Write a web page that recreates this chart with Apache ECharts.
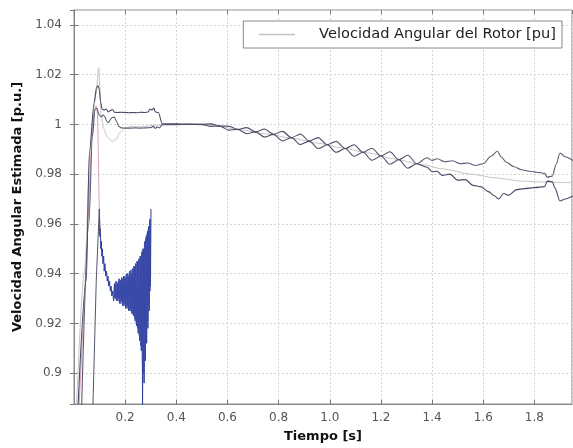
<!DOCTYPE html>
<html>
<head>
<meta charset="utf-8">
<title>Velocidad Angular Estimada</title>
<script src="https://cdn.jsdelivr.net/npm/echarts@6/dist/echarts.min.js"></script>
<style>
  html, body { margin: 0; padding: 0; background: #fff; }
  #chart { width: 573px; height: 448px; }
</style>
</head>
<body>
<div id="chart"></div>
<script>
// ejes
const xMin = 0, xMax = 1.947, xStep = 0.2;
const yMin = 0.8876, yMax = 1.046, yStep = 0.02;

const nombreRef = 'Velocidad Angular del Rotor [pu]';

// velocidad del rotor (referencia, gris claro)
const refData = [
  [0.010, 0.8870], [0.040, 0.9400], [0.065, 0.9900], [0.085, 1.0120], [0.097, 1.0228],
  [0.101, 1.0150], [0.106, 1.0040], [0.115, 0.9985], [0.130, 0.9950], [0.150, 0.9932],
  [0.165, 0.9940], [0.180, 0.9968], [0.200, 0.9985], [0.230, 0.9992], [0.260, 0.9990],
  [0.300, 0.9995], [0.350, 1.0000], [0.450, 1.0000], [0.550, 0.9995], [0.650, 0.9978],
  [0.750, 0.9962], [0.850, 0.9945], [0.950, 0.9925], [1.050, 0.9905], [1.150, 0.9885],
  [1.250, 0.9862], [1.350, 0.9840], [1.450, 0.9820], [1.550, 0.9800], [1.650, 0.9785],
  [1.750, 0.9772], [1.850, 0.9768], [1.950, 0.9765]
];

// estimada 1 (oscura)
const est1Data = [
  [0.016, 0.8870], [0.048, 0.9372], [0.060, 0.9888], [0.079, 1.0088], [0.088, 1.0148],
  [0.094, 1.0155], [0.099, 1.0140], [0.104, 1.0090], [0.110, 1.0062], [0.118, 1.0058],
  [0.126, 1.0062], [0.134, 1.0050], [0.142, 1.0056], [0.150, 1.0060], [0.158, 1.0049],
  [0.170, 1.0048], [0.185, 1.0049], [0.200, 1.0048], [0.215, 1.0047], [0.230, 1.0048],
  [0.245, 1.0047], [0.260, 1.0049], [0.275, 1.0048], [0.290, 1.0050], [0.297, 1.0062],
  [0.305, 1.0058], [0.312, 1.0066], [0.318, 1.0050], [0.330, 1.0048], [0.345, 1.0002],
  [0.360, 1.0002], [0.400, 1.0002], [0.450, 1.0001], [0.500, 1.0000], [0.535, 1.0002],
  [0.570, 0.9993], [0.605, 0.9977], [0.640, 0.9980], [0.675, 0.9987], [0.710, 0.9970],
  [0.745, 0.9949], [0.780, 0.9960], [0.815, 0.9972], [0.850, 0.9947], [0.885, 0.9919],
  [0.920, 0.9933], [0.955, 0.9947], [0.990, 0.9918], [1.025, 0.9888], [1.060, 0.9903],
  [1.095, 0.9918], [1.130, 0.9888], [1.165, 0.9856], [1.200, 0.9873], [1.235, 0.9890],
  [1.270, 0.9858], [1.305, 0.9824], [1.340, 0.9842], [1.380, 0.9828], [1.400, 0.9810],
  [1.420, 0.9812], [1.440, 0.9795], [1.470, 0.9800], [1.500, 0.9776], [1.530, 0.9778],
  [1.560, 0.9755], [1.590, 0.9750], [1.620, 0.9730], [1.645, 0.9712], [1.660, 0.9700],
  [1.680, 0.9722], [1.700, 0.9715], [1.730, 0.9738], [1.760, 0.9742], [1.800, 0.9746],
  [1.840, 0.9750], [1.850, 0.9772], [1.870, 0.9770], [1.880, 0.9745], [1.900, 0.9692],
  [1.920, 0.9700], [1.950, 0.9712]
];

// estimada 2 (oscura)
const est2Data = [
  [0.030, 0.8870], [0.058, 0.9600], [0.072, 0.9950], [0.082, 1.0060], [0.090, 1.0065],
  [0.097, 1.0040], [0.106, 1.0030], [0.113, 1.0038], [0.120, 1.0032], [0.128, 1.0012],
  [0.136, 1.0008], [0.143, 1.0022], [0.150, 1.0028], [0.158, 1.0030], [0.165, 1.0015],
  [0.175, 0.9992], [0.185, 0.9986], [0.200, 0.9985], [0.220, 0.9985], [0.240, 0.9986],
  [0.260, 0.9985], [0.280, 0.9986], [0.300, 0.9987], [0.310, 0.9992], [0.318, 0.9984],
  [0.325, 0.9990], [0.333, 0.9986], [0.345, 0.9998], [0.360, 0.9999], [0.400, 0.9999],
  [0.450, 1.0000], [0.500, 1.0000], [0.535, 0.9992], [0.570, 0.9993], [0.605, 0.9993],
  [0.640, 0.9980], [0.675, 0.9963], [0.710, 0.9970], [0.745, 0.9981], [0.780, 0.9960],
  [0.815, 0.9934], [0.850, 0.9947], [0.885, 0.9961], [0.920, 0.9933], [0.955, 0.9903],
  [0.990, 0.9918], [1.025, 0.9932], [1.060, 0.9903], [1.095, 0.9872], [1.130, 0.9888],
  [1.165, 0.9904], [1.200, 0.9873], [1.235, 0.9840], [1.270, 0.9858], [1.305, 0.9876],
  [1.340, 0.9842], [1.380, 0.9866], [1.400, 0.9855], [1.420, 0.9862], [1.450, 0.9850],
  [1.480, 0.9854], [1.510, 0.9842], [1.540, 0.9845], [1.570, 0.9835], [1.600, 0.9842],
  [1.630, 0.9872], [1.655, 0.9892], [1.670, 0.9870], [1.690, 0.9848], [1.720, 0.9830],
  [1.750, 0.9818], [1.780, 0.9812], [1.810, 0.9808], [1.840, 0.9803], [1.850, 0.9788],
  [1.870, 0.9792], [1.885, 0.9840], [1.900, 0.9885], [1.920, 0.9870], [1.950, 0.9855]
];

// tramo rosado del transitorio
const rosaData = [
  [0.020, 0.8870], [0.050, 0.9500], [0.068, 0.9930], [0.080, 1.0060], [0.087, 1.0075],
  [0.092, 1.0040], [0.095, 0.9900], [0.097, 0.9750], [0.099, 0.9660]
];

// subida oscura que entra en la zona azul
const subidaData = [
  [0.074, 0.8870], [0.087, 0.9372], [0.099, 0.9660], [0.102, 0.9560]
];

// estimación ruidosa (azul) entre 0.1 y 0.3 s
const azulData = [
  [0.099, 0.9660], [0.101, 0.9550], [0.103, 0.9580], [0.105, 0.9500], [0.107, 0.9530],
  [0.109, 0.9470], [0.111, 0.9500], [0.113, 0.9440], [0.116, 0.9470], [0.118, 0.9410],
  [0.121, 0.9440], [0.124, 0.9390], [0.127, 0.9410], [0.130, 0.9370], [0.133, 0.9390],
  [0.136, 0.9350], [0.139, 0.9370], [0.142, 0.9330], [0.145, 0.9350], [0.148, 0.9310],
  [0.151, 0.9330], [0.155, 0.9290], [0.158, 0.9360], [0.161, 0.9300], [0.164, 0.9370],
  [0.167, 0.9290], [0.170, 0.9360], [0.173, 0.9300], [0.176, 0.9380], [0.179, 0.9280],
  [0.182, 0.9370], [0.185, 0.9290], [0.188, 0.9380], [0.191, 0.9270], [0.194, 0.9390],
  [0.197, 0.9280], [0.200, 0.9380], [0.203, 0.9260], [0.206, 0.9400], [0.209, 0.9270],
  [0.212, 0.9390], [0.215, 0.9250], [0.218, 0.9410], [0.221, 0.9260], [0.224, 0.9400],
  [0.227, 0.9240], [0.230, 0.9420], [0.233, 0.9230], [0.236, 0.9430], [0.239, 0.9210],
  [0.242, 0.9440], [0.245, 0.9190], [0.248, 0.9450], [0.251, 0.9160], [0.254, 0.9460],
  [0.257, 0.9130], [0.260, 0.9470], [0.263, 0.9090], [0.266, 0.9490], [0.268, 0.8860],
  [0.271, 0.9500], [0.274, 0.8960], [0.277, 0.9530], [0.279, 0.9050], [0.282, 0.9550],
  [0.284, 0.9120], [0.287, 0.9570], [0.289, 0.9180], [0.292, 0.9590], [0.294, 0.9250],
  [0.297, 0.9620], [0.299, 0.9350], [0.301, 0.9660]
];

// segunda pasada del ruido azul (entre las oscilaciones anteriores)
const azul2Data = [
  [0.1565, 0.9335], [0.1595, 0.9305], [0.1625, 0.9355], [0.1655, 0.9295], [0.1685, 0.9365],
  [0.1715, 0.9290], [0.1745, 0.9370], [0.1775, 0.9285], [0.1805, 0.9375], [0.1835, 0.9280],
  [0.1865, 0.9385], [0.1895, 0.9275], [0.1925, 0.9380], [0.1955, 0.9270], [0.1985, 0.9390],
  [0.2015, 0.9265], [0.2045, 0.9395], [0.2075, 0.9260], [0.2105, 0.9400], [0.2135, 0.9255],
  [0.2165, 0.9405], [0.2195, 0.9250], [0.2225, 0.9415], [0.2255, 0.9240], [0.2285, 0.9420],
  [0.2315, 0.9235], [0.2345, 0.9430], [0.2375, 0.9220], [0.2405, 0.9440], [0.2435, 0.9200],
  [0.2465, 0.9450], [0.2495, 0.9180], [0.2525, 0.9455], [0.2555, 0.9150], [0.2585, 0.9470],
  [0.2615, 0.9110], [0.2645, 0.9480], [0.2675, 0.9040], [0.2700, 0.9500], [0.2725, 0.9000],
  [0.2755, 0.9520], [0.2785, 0.9080], [0.2810, 0.9540], [0.2835, 0.9150], [0.2860, 0.9560],
  [0.2880, 0.9210], [0.2905, 0.9580], [0.2930, 0.9280], [0.2955, 0.9610], [0.2980, 0.9330]
];

const chart = echarts.init(document.getElementById('chart'), null, { renderer: 'canvas' });

const fuente = 'DejaVu Sans';
const gris = '#555';

function linea(nombre, datos, color, ancho, z, suave) {
  return {
    name: nombre,
    type: 'line',
    data: datos,
    symbol: 'none',
    silent: true,
    z: z,
    smooth: suave || false,
    smoothMonotone: 'x',
    itemStyle: { color: color },
    lineStyle: { color: color, width: ancho }
  };
}

const ejeY = {
  type: 'value',
  min: yMin,
  max: yMax,
  minInterval: yStep,
  maxInterval: yStep,
  splitNumber: 8
};
const ejeX = {
  type: 'value',
  min: xMin,
  max: xMax,
  minInterval: xStep,
  maxInterval: xStep,
  splitNumber: 10
};

const option = {
  animation: false,
  backgroundColor: '#fff',
  grid: {
    left: 74, right: 1, top: 10, bottom: 44,
    show: true, borderColor: '#8a8a8a', borderWidth: 1
  },
  legend: {
    data: [nombreRef],
    right: 11,
    top: 21,
    padding: [6, 6, 6, 15],
    itemWidth: 36,
    itemHeight: 14,
    borderColor: '#888',
    borderWidth: 1,
    backgroundColor: '#fff',
    itemStyle: { opacity: 0 },
    lineStyle: { color: '#c4c4c4', width: 1.5 },
    textStyle: { fontFamily: fuente, fontSize: 14.6, color: '#222', padding: [0, 0, 0, 19] }
  },
  xAxis: [
    Object.assign({}, ejeX, {
      position: 'bottom',
      name: 'Tiempo [s]',
      nameLocation: 'middle',
      nameGap: 26,
      nameTextStyle: { fontFamily: fuente, fontWeight: 'bold', fontSize: 13, color: '#111' },
      axisLine: { show: true, lineStyle: { color: '#8a8a8a' } },
      axisTick: { show: true, inside: true, length: 4, lineStyle: { color: '#777' } },
      axisLabel: {
        fontFamily: fuente, fontSize: 12, color: gris, margin: 8,
        showMinLabel: false, showMaxLabel: false,
        formatter: v => v.toFixed(1)
      },
      splitLine: { show: true, lineStyle: { color: '#d4d4d4', type: [2, 2] } }
    }),
    Object.assign({}, ejeX, {
      position: 'top',
      axisLine: { show: false },
      axisTick: { show: true, inside: true, length: 4, lineStyle: { color: '#777' } },
      axisLabel: { show: false },
      splitLine: { show: false }
    })
  ],
  yAxis: [
    Object.assign({}, ejeY, {
      position: 'left',
      name: 'Velocidad Angular Estimada [p.u.]',
      nameLocation: 'middle',
      nameGap: 46,
      nameTextStyle: { fontFamily: fuente, fontWeight: 'bold', fontSize: 13, color: '#111' },
      axisLine: { show: true, lineStyle: { color: '#8a8a8a' } },
      axisTick: { show: true, inside: true, length: 4, lineStyle: { color: '#777' } },
      axisLabel: {
        fontFamily: fuente, fontSize: 12, color: gris, margin: 12,
        showMinLabel: false, showMaxLabel: false
      },
      splitLine: { show: true, lineStyle: { color: '#d4d4d4', type: [2, 2] } }
    }),
    Object.assign({}, ejeY, {
      position: 'right',
      axisLine: { show: false },
      axisTick: { show: true, inside: true, length: 4, lineStyle: { color: '#777' } },
      axisLabel: { show: false },
      splitLine: { show: false }
    })
  ],
  series: [
    linea(nombreRef, refData, '#c4c4c4', 1, 2, 0.3),
    linea('rosa', rosaData, '#d9a3b6', 1, 3),
    linea('azul', azulData, '#2d3c9e', 1, 4),
    linea('azul 2', azul2Data, '#3a4aa8', 1, 4),
    linea('subida', subidaData, '#55556a', 1, 5),
    linea('estimada 2', est2Data, '#5a5a72', 1.1, 5, 0.3),
    linea('estimada 1', est1Data, '#4a4a66', 1.1, 6, 0.3)
  ]
};

chart.setOption(option);
</script>
</body>
</html>
